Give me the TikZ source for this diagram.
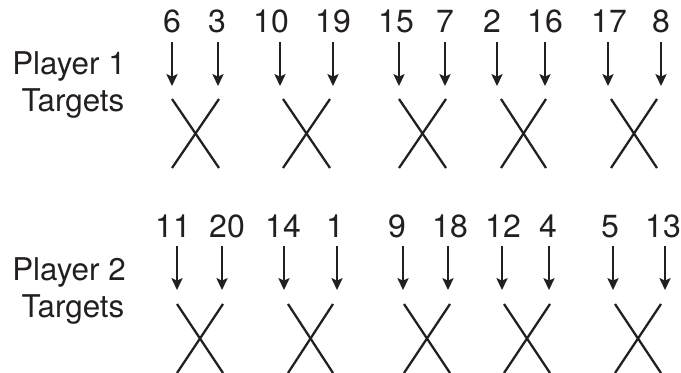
\documentclass[tikz,border=0pt]{standalone}
\usepackage{fontspec}
\setmainfont{TeX Gyre Heros}
\usetikzlibrary{arrows.meta}
\definecolor{ink}{HTML}{231F20}
\tikzset{
  num/.style={anchor=base, inner sep=0pt, text=ink, font=\fontsize{24}{28}\selectfont},
  lbl/.style={anchor=base, inner sep=0pt, text=ink, font=\fontsize{23.5}{28}\selectfont},
  arr/.style={draw=ink, line width=1pt, -{Stealth[length=9pt,width=8.5pt,inset=2pt]}},
  cross/.style={draw=ink, line width=1.7pt}
}
\begin{document}
\begin{tikzpicture}[x=0.75pt,y=-0.75pt]
\useasboundingbox (0,0) rectangle (681,373);
% labels
\node[lbl] (p1a) at (69,75) {Player 1};
\node[lbl] (p1b) at (73,112) {Targets};
\node[lbl] (p2a) at (69,281) {Player 2};
\node[lbl] (p2b) at (73,318) {Targets};
% top row numbers and arrows
\foreach \ax/\nx/\t [count=\i] in {172/172/6,218/217/3,280/271/10,333/333/19,399/396/15,445/445/7,497/492/2,545/545/16,608/609/17,661/661/8}{
  \node[num] (tn\i) at (\nx,33) {\t};
  \coordinate (ta\i) at (\ax,42);
  \coordinate (tb\i) at (\ax,86);
  \draw[arr] (ta\i) -- (tb\i);
}
% top crosses
\foreach \l/\r [count=\i] in {172/219,283/330,399/446,501/546,611/657}{
  \coordinate (tcA\i) at (\l,99);
  \coordinate (tcB\i) at (\r,168);
  \coordinate (tcC\i) at (\r,99);
  \coordinate (tcD\i) at (\l,168);
  \draw[cross] (tcA\i) -- (tcB\i);
  \draw[cross] (tcC\i) -- (tcD\i);
}
% bottom row numbers and arrows
\foreach \ax/\nx/\t [count=\i] in {177/173/11,222/227/20,284/283/14,337/335/1,403/397/9,448/450/18,502/503/12,549/548/4,613/610/5,665/663/13}{
  \node[num] (bn\i) at (\nx,238) {\t};
  \coordinate (ba\i) at (\ax,246);
  \coordinate (bb\i) at (\ax,290);
  \draw[arr] (ba\i) -- (bb\i);
}
% bottom crosses
\foreach \l/\r [count=\i] in {177/223,288/333,404/450,504/550,615/661}{
  \coordinate (bcA\i) at (\l,304);
  \coordinate (bcB\i) at (\r,373);
  \coordinate (bcC\i) at (\r,304);
  \coordinate (bcD\i) at (\l,373);
  \draw[cross] (bcA\i) -- (bcB\i);
  \draw[cross] (bcC\i) -- (bcD\i);
}
\end{tikzpicture}
\end{document}
